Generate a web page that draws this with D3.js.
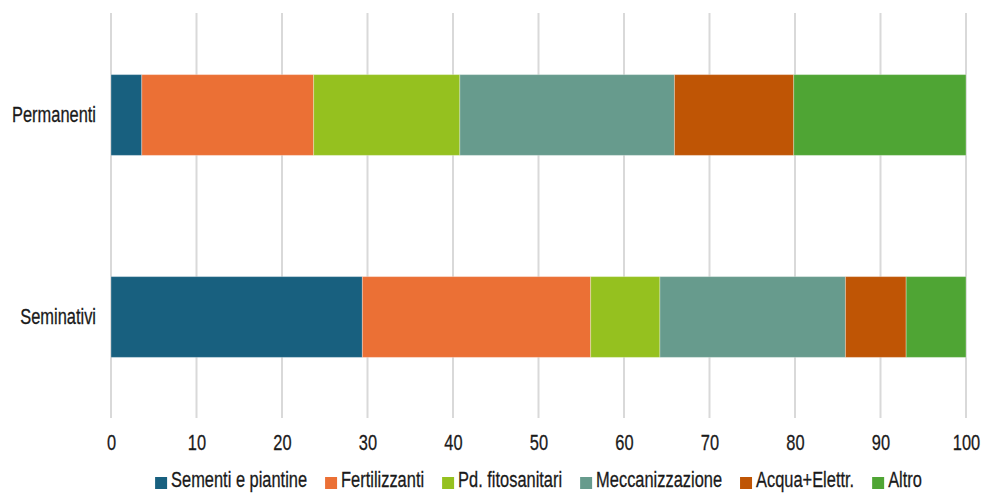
<!DOCTYPE html>
<html>
<head>
<meta charset="utf-8">
<script src="https://cdn.jsdelivr.net/npm/d3@7"></script>
<style>
  body { margin: 0; background: #ffffff; }
  text { font-family: "Liberation Sans", Arial, sans-serif; fill: #1a1a1a; stroke: #1a1a1a; stroke-width: 0.3px; }
</style>
</head>
<body>
<svg id="chart"></svg>
<script>
const width = 988, height = 493
const sx = 0.73                        // fake a condensed face, none is installed
const squeeze = `scale(${sx}, 1)`
const fontSize = "22.5px"

// data (percent shares)
const categories = ["Permanenti", "Seminativi"]
const seriesNames = ["Sementi e piantine", "Fertilizzanti", "Pd. fitosanitari", "Meccanizzazione", "Acqua+Elettr.", "Altro"]
const seriesColors = ["#18607f", "#eb7035", "#95c11f", "#679b8d", "#bf5505", "#4fa534"]
const permanenti = [3.6, 20.1, 17.1, 25.1, 13.95, 20.15]
const seminativi = [29.4, 26.7, 8.1, 21.7, 7.1, 7.0]
const xTicks = [0, 10, 20, 30, 40, 50, 60, 70, 80, 90, 100]

const rows = [permanenti, seminativi].map((vals, i) => {
    const row = {category: categories[i]}
    seriesNames.forEach((s, j) => row[s] = vals[j])
    return row
})

const svg = d3.select("svg#chart")
    .attr("viewBox", [0, 0, width, height])
    .attr("width", width)
    .attr("height", height)
    .style("background", "#ffffff")

const x = d3.scaleLinear().domain([0, 100]).range([111, 966])
const y = d3.scaleBand().domain(categories).range([14, 418]).paddingInner(0.6).paddingOuter(0.3)
const color = d3.scaleOrdinal().domain(seriesNames).range(seriesColors)

// gridlines
svg.append("g")
    .selectAll("line")
    .data(xTicks)
    .enter()
    .append("line")
    .attr("x1", d => x(d)).attr("x2", d => x(d))
    .attr("y1", 13).attr("y2", 418)
    .attr("stroke", "#d9d9d9")
    .attr("stroke-width", 2)

// bars
const stacked = d3.stack().keys(seriesNames)(rows)

svg.append("g")
    .selectAll("g")
    .data(stacked)
    .enter()
    .append("g")
    .attr("fill", d => color(d.key))
    .selectAll("rect")
    .data(d => d)
    .enter()
    .append("rect")
    .attr("x", d => x(d[0]))
    .attr("width", d => x(d[1]) - x(d[0]))
    .attr("y", d => y(d.data.category))
    .attr("height", y.bandwidth())
    .attr("stroke", "#ffffff")
    .attr("stroke-opacity", 0.3)
    .attr("stroke-width", 1)

// x axis labels
const xAxis = svg.append("g")
    .attr("transform", "translate(0, 434)")
    .call(d3.axisBottom(x).tickValues(xTicks).tickSize(0).tickPadding(0))
xAxis.select(".domain").remove()
xAxis.selectAll("text")
    .attr("y", 0)
    .attr("dy", "0.72em")
    .attr("transform", squeeze)
    .style("font-size", fontSize)
    .style("font-family", null)
    .attr("fill", "#1a1a1a")

// y axis labels
const yAxis = svg.append("g")
    .attr("transform", "translate(96, 0)")
    .call(d3.axisLeft(y).tickSize(0).tickPadding(0))
yAxis.select(".domain").remove()
yAxis.selectAll("text")
    .attr("x", 0)
    .attr("dy", "0.3em")
    .attr("transform", squeeze)
    .style("font-size", fontSize)
    .style("font-family", null)
    .attr("fill", "#1a1a1a")

// legend, laid out by measured text widths and centered under the plot
const legend = svg.append("g")
const items = legend.selectAll("g.legend")
    .data(seriesNames)
    .enter()
    .append("g").attr("class", "legend")

items.append("rect")
    .attr("x", 0).attr("y", -10)
    .attr("width", 12).attr("height", 12)
    .attr("fill", d => color(d))

items.append("text")
    .attr("transform", "translate(16, 0) " + squeeze)
    .style("font-size", fontSize)
    .text(d => d)

let cursor = 0
items.each(function () {
    const g = d3.select(this)
    g.attr("transform", `translate(${cursor}, 0)`)
    cursor += 16 + g.select("text").node().getComputedTextLength() * sx + 18
})
const total = cursor - 18
legend.attr("transform", `translate(${(x(0) + x(100)) / 2 - total / 2}, 487)`)
</script>
</body>
</html>
